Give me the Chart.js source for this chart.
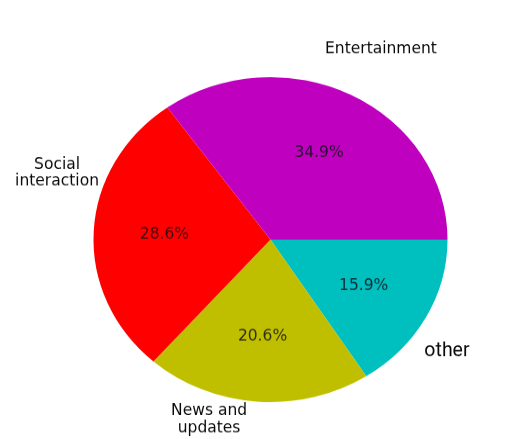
<!DOCTYPE html>
<html>
<head>
<meta charset="utf-8">
<script src="https://cdn.jsdelivr.net/npm/chart.js@4/dist/chart.umd.min.js"></script>
<style>
  html, body { margin: 0; padding: 0; background: #ffffff; overflow: hidden; }
  #wrap { position: relative; width: 509px; height: 439px; overflow: hidden; }
  /* the pie is drawn a little flattened: the canvas is squeezed vertically */
  #pie { position: absolute; left: 0; top: 0; transform-origin: 0 0; }
</style>
</head>
<body>
<div id="wrap"><canvas id="pie" width="509" height="478"></canvas></div>
<script>
// Share of time spent, by activity (percent)
const categories = ['Entertainment', 'Social interaction', 'News and updates', 'other'];
const shares = [34.9, 28.6, 20.6, 15.9];
const sliceColors = ['#bf00bf', '#ff0000', '#bfbf00', '#00bfbf'];

// Outer label text (line breaks) for each category
const outerText = {
  'Entertainment': ['Entertainment'],
  'Social interaction': ['Social', 'interaction'],
  'News and updates': ['News and', 'updates'],
  'other': ['other']
};

const squeeze = 0.918;               // vertical squeeze of the picture
const canvasEl = document.getElementById('pie');
canvasEl.style.transform = 'scaleY(' + squeeze + ')';

// Slices run counter-clockwise from 3 o'clock; Chart.js runs clockwise,
// so the order is reversed and drawing starts at 90 degrees.
const order = categories.map((_, i) => i).reverse();

// Label anchors, in units of the pie radius from its centre
const outerPos = {
  'Entertainment':      { dx: 0.624,  dy: -1.172, font: '15.5px "DejaVu Sans"', lh: 17 },
  'Social interaction': { dx: -1.206, dy: -0.409, font: '15.5px "DejaVu Sans"', lh: 17 },
  'News and updates':   { dx: -0.347, dy: 1.108,  font: '15.5px "DejaVu Sans"', lh: 17 },
  'other':              { dx: 0.997,  dy: 0.686,  font: '19.5px Roboto',        lh: 20 }
};

const labelPlugin = {
  id: 'pieLabels',
  afterDatasetsDraw(chart) {
    const ctx = chart.ctx;
    const meta = chart.getDatasetMeta(0);
    const data = chart.data.datasets[0].data;
    const total = data.reduce((a, b) => a + b, 0);
    ctx.save();
    ctx.textAlign = 'center';
    ctx.textBaseline = 'middle';
    meta.data.forEach((arc, i) => {
      const p = arc.getProps(['x', 'y', 'startAngle', 'endAngle', 'outerRadius'], true);
      const mid = (p.startAngle + p.endAngle) / 2;
      const r = p.outerRadius;
      // percentage inside the slice
      const px = p.x + Math.cos(mid) * r * 0.6;
      const py = p.y + Math.sin(mid) * r * 0.6;
      const pct = (data[i] / total * 100).toFixed(1) + '%';
      ctx.save();
      ctx.translate(px, py);
      ctx.scale(1, 1 / squeeze);
      ctx.font = '15.5px "DejaVu Sans"';
      ctx.fillStyle = 'rgba(15,15,25,0.82)';
      ctx.fillText(pct, 0, 0);
      ctx.restore();
      // category name outside the pie
      const name = chart.data.labels[i];
      const pos = outerPos[name];
      const lines = outerText[name];
      ctx.save();
      ctx.translate(p.x + pos.dx * r, p.y + pos.dy * r);
      ctx.scale(1, 1 / squeeze);
      ctx.font = pos.font;
      ctx.fillStyle = '#0a0a0a';
      const off = (lines.length - 1) * pos.lh / 2;
      lines.forEach((ln, k) => ctx.fillText(ln, 0, k * pos.lh - off));
      ctx.restore();
    });
    ctx.restore();
  }
};

new Chart(canvasEl, {
  type: 'pie',
  data: {
    labels: order.map(i => categories[i]),
    datasets: [{
      data: order.map(i => shares[i]),
      backgroundColor: order.map(i => sliceColors[i]),
      borderWidth: 0
    }]
  },
  options: {
    responsive: false,
    animation: false,
    rotation: 90,
    layout: { padding: { left: 93.5, right: 61.5, top: 83.9, bottom: 40.1 } },
    plugins: {
      legend: { display: false },
      tooltip: { enabled: false }
    }
  },
  plugins: [labelPlugin]
});
</script>
</body>
</html>
